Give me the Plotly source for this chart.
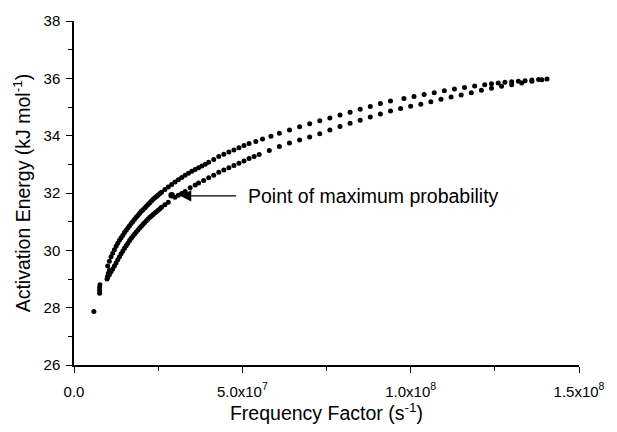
import plotly.graph_objects as go

# Upper branch (x in units of 1e7 s^-1, y in kJ/mol)
upper_x = [1.0, 1.05, 1.1, 1.15, 1.2, 1.25, 1.3, 1.35, 1.4, 1.45, 1.5, 1.55, 1.6, 1.65, 1.7,
           1.75, 1.8, 1.85, 1.9, 1.95, 2.0, 2.05, 2.1, 2.15, 2.2, 2.25, 2.3, 2.35, 2.4, 2.45,
           2.5, 2.55, 2.6, 2.7, 2.8, 2.9, 3.0, 3.1, 3.2, 3.3, 3.4, 3.5, 3.6, 3.7, 3.8, 3.9,
           4.0, 4.15, 4.3, 4.45, 4.6, 4.75, 4.9, 5.05, 5.2, 5.4, 5.6, 5.85, 6.1, 6.4, 6.7,
           7.0, 7.3, 7.6, 7.9, 8.2, 8.5, 8.8, 9.1, 9.4, 9.8, 10.1, 10.4, 10.7, 11.0, 11.3,
           11.6, 11.9, 12.2, 12.4, 12.6, 12.8, 13.0, 13.2, 13.4, 13.6, 13.8, 14.05]
upper_y = [29.45, 29.62, 29.78, 29.9, 30.02, 30.14, 30.25, 30.35, 30.44, 30.53, 30.62, 30.7,
           30.78, 30.86, 30.94, 31.01, 31.08, 31.15, 31.22, 31.29, 31.36, 31.42, 31.48, 31.54,
           31.6, 31.66, 31.72, 31.78, 31.83, 31.88, 31.93, 31.98, 32.03, 32.12, 32.21, 32.3,
           32.38, 32.46, 32.54, 32.62, 32.69, 32.76, 32.82, 32.88, 32.94, 33.0, 33.07, 33.17,
           33.27, 33.35, 33.43, 33.5, 33.58, 33.66, 33.73, 33.8, 33.88, 33.98, 34.08, 34.2,
           34.31, 34.42, 34.52, 34.62, 34.72, 34.82, 34.92, 35.02, 35.12, 35.21, 35.3, 35.37,
           35.44, 35.5, 35.57, 35.63, 35.68, 35.73, 35.78, 35.81, 35.84, 35.86, 35.88, 35.9,
           35.92, 35.94, 35.96, 35.98]

# Lower branch
lower_x = [1.0, 1.05, 1.1, 1.15, 1.2, 1.25, 1.3, 1.35, 1.4, 1.45, 1.5, 1.55, 1.6, 1.65, 1.7,
           1.75, 1.8, 1.85, 1.9, 1.95, 2.0, 2.05, 2.1, 2.15, 2.2, 2.25, 2.3, 2.35, 2.4, 2.45,
           2.5, 2.55, 2.6, 2.7, 2.8, 3.0, 3.1, 3.2, 3.3, 3.45, 3.6, 3.7, 3.85, 4.0, 4.15,
           4.3, 4.45, 4.6, 4.75, 4.9, 5.05, 5.2, 5.35, 5.5, 5.8, 6.1, 6.4, 6.7, 7.0, 7.3,
           7.6, 7.9, 8.2, 8.5, 8.8, 9.1, 9.4, 9.7, 10.0, 10.3, 10.6, 10.9, 11.2, 11.5, 11.8,
           12.1, 12.4, 12.7, 13.0, 13.3, 13.6, 13.9]
lower_y = [29.05, 29.15, 29.25, 29.35, 29.45, 29.56, 29.67, 29.78, 29.88, 29.98, 30.07, 30.16,
           30.25, 30.34, 30.42, 30.5, 30.57, 30.64, 30.71, 30.78, 30.84, 30.91, 30.97, 31.03,
           31.09, 31.15, 31.2, 31.25, 31.3, 31.35, 31.4, 31.45, 31.5, 31.59, 31.68, 31.85,
           31.92, 31.98, 32.05, 32.18, 32.28, 32.35, 32.44, 32.53, 32.62, 32.72, 32.8, 32.88,
           32.96, 33.04, 33.12, 33.2, 33.27, 33.34, 33.48, 33.62, 33.74, 33.85, 33.95, 34.07,
           34.2, 34.32, 34.43, 34.54, 34.65, 34.76, 34.86, 34.95, 35.03, 35.1, 35.18, 35.27,
           35.35, 35.42, 35.5, 35.58, 35.65, 35.72, 35.78, 35.84, 35.9, 35.95]

# Isolated low points
low_x = [0.59, 0.76, 0.76, 0.76, 0.77, 0.98, 1.0, 1.02, 1.05]
low_y = [27.87, 28.5, 28.6, 28.7, 28.8, 29.0, 29.1, 29.2, 29.3]

# Point of maximum probability
max_x = [2.9]
max_y = [31.92]

x_tickvals = [0, 5e7, 1e8, 1.5e8]
x_ticktext = ["0.0", "5.0x10<sup>7</sup>", "1.0x10<sup>8</sup>", "1.5x10<sup>8</sup>"]
y_tickvals = [26, 28, 30, 32, 34, 36, 38]

SCALE = 1e7

fig = go.Figure()
for xs, ys, sz in [(upper_x, upper_y, 5), (lower_x, lower_y, 5), (low_x, low_y, 5),
                   (max_x, max_y, 6.5)]:
    fig.add_trace(go.Scatter(x=[v * SCALE for v in xs], y=ys, mode="markers",
                             marker=dict(color="black", size=sz),
                             showlegend=False, hoverinfo="skip"))

# Arrow annotation
fig.add_annotation(x=3.15e7, y=31.9, ax=4.86e7, ay=31.9, axref="x", ayref="y",
                   xref="x", yref="y", text="", showarrow=True,
                   arrowhead=2, arrowsize=1.6, arrowwidth=1.4, arrowcolor="black")
fig.add_annotation(x=5.1e7, y=31.9, xref="x", yref="y", text="Point of maximum probability",
                   showarrow=False, xanchor="left", yanchor="middle",
                   font=dict(size=19.5, color="black"))

axis_common = dict(showline=True, linecolor="black", linewidth=1.5, mirror=False,
                   ticks="outside", tickcolor="black", tickwidth=1.3, ticklen=6,
                   showgrid=False, zeroline=False,
                   tickfont=dict(size=15, color="black"))

fig.update_xaxes(range=[0, 1.5e8], tickvals=x_tickvals, ticktext=x_ticktext,
                 ticklabelstandoff=6,
                 title=dict(text="Frequency Factor (s<sup>-1</sup>)",
                            font=dict(size=19.5, color="black"), standoff=7),
                 minor=dict(tickvals=[2.5e7, 7.5e7, 1.25e8], ticks="outside", ticklen=4,
                            tickcolor="black", tickwidth=1.2),
                 **axis_common)
fig.update_yaxes(range=[26, 38], tickvals=y_tickvals, ticklabelstandoff=3,
                 title=dict(text="Activation Energy (kJ mol<sup>-1</sup>)",
                            font=dict(size=19.5, color="black"), standoff=8),
                 minor=dict(tickvals=[27, 29, 31, 33, 35, 37], ticks="outside", ticklen=4,
                            tickcolor="black", tickwidth=1.2),
                 **axis_common)

fig.update_layout(width=617, height=432, margin=dict(l=74, r=31, t=20, b=66),
                  plot_bgcolor="white", paper_bgcolor="white",
                  font=dict(family="Liberation Sans, Arial, sans-serif", color="black"))

fig.write_html("out.html")
